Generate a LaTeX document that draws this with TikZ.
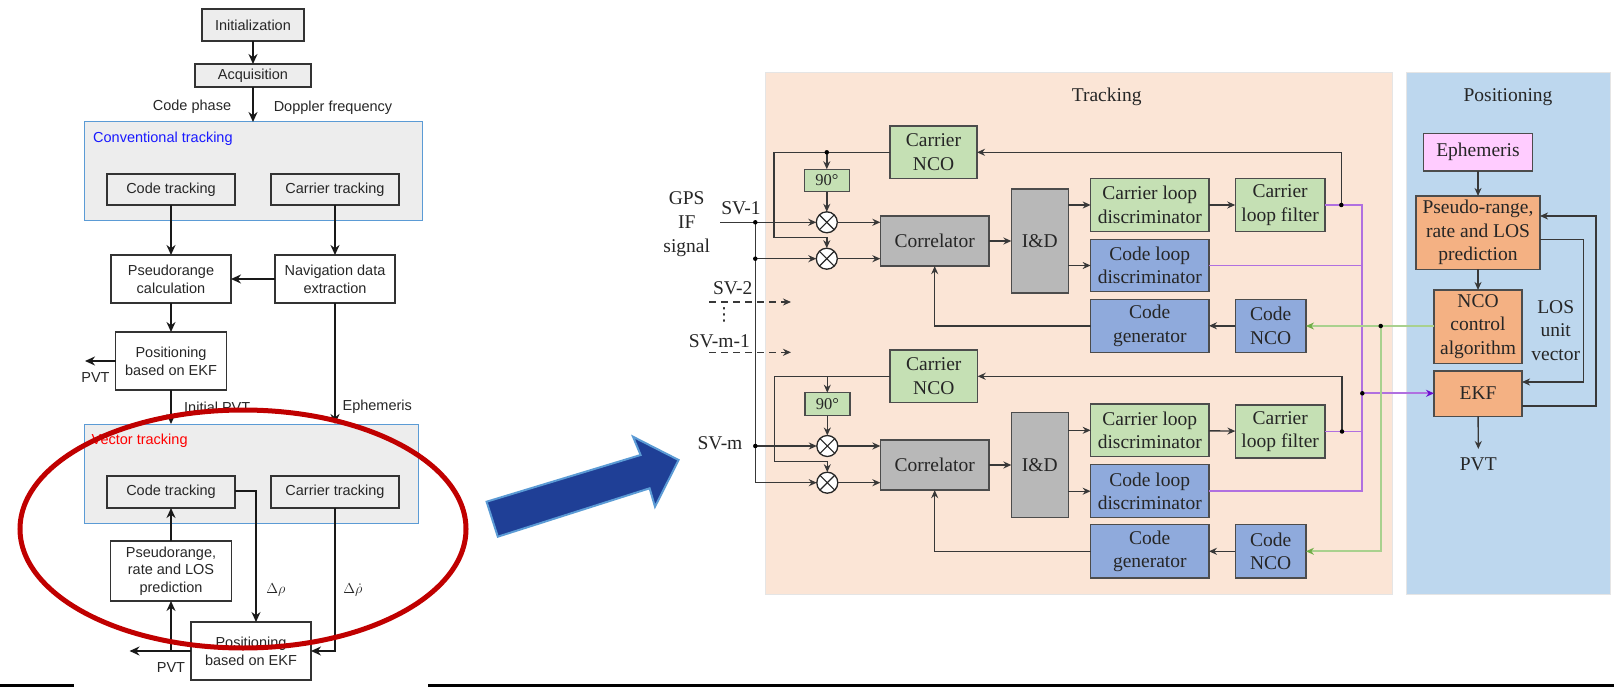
\documentclass[tikz,border=0pt]{standalone}
\usepackage{fontspec}
\setmainfont{Liberation Serif}
\setsansfont{Liberation Sans}
\newfontfamily\symfont{DejaVu Sans}
\usepackage{tikz}
\usetikzlibrary{shapes.geometric, arrows.meta, positioning, fit, backgrounds, calc}
\usepackage{xcolor}
\definecolor{panelPeach}{HTML}{FBE5D6}
\definecolor{panelBlue}{HTML}{BDD7EE}
\definecolor{boxGreen}{HTML}{C5E0B4}
\definecolor{boxBlue}{HTML}{8FAADC}
\definecolor{boxGray}{HTML}{B8B8B8}
\definecolor{boxOrange}{HTML}{F4B183}
\definecolor{boxPink}{HTML}{FFCCFF}
\definecolor{ringRed}{HTML}{C00000}
\definecolor{arrowBlue}{HTML}{1F3F96}
\definecolor{arrowEdge}{HTML}{5B9BD5}
\definecolor{wirePurple}{HTML}{B070E0}
\definecolor{tipPurple}{HTML}{6A10D0}
\definecolor{wireGreen}{HTML}{A9D18E}
\definecolor{tipGreen}{HTML}{70AD47}
\tikzset{
    >={Stealth[length=8pt,width=7pt]},
    % Colors
    compGreen/.style={fill=boxGreen},
    compBlue/.style={fill=boxBlue},
    compGray/.style={fill=boxGray},
    compOrange/.style={fill=boxOrange},
    compPink/.style={fill=boxPink},
    % Shapes
    comp/.style={rectangle, draw=black!70, line width=1.4pt, inner sep=0pt, outer sep=0pt, align=center,
                 font=\fontsize{19.5}{23.5}\selectfont, text=black!85},
    flowBox/.style={rectangle, draw=black!80, line width=1.5pt, inner sep=0pt, outer sep=0pt, align=center,
                 font=\sffamily\fontsize{14.5}{17.7}\selectfont, text=black!85},
    stage/.style={rectangle, draw=arrowEdge, fill=black!7, line width=1pt, outer sep=0pt},
    panel/.style={rectangle, draw=black!10, line width=.6pt, outer sep=0pt},
    mixer/.style={circle, draw=black!85, fill=white, line width=1.3pt, minimum size=21pt, inner sep=0pt, outer sep=0pt,
                  path picture={
                    \draw[line width=1.1pt] (path picture bounding box.north west) -- (path picture bounding box.south east);
                    \draw[line width=1.1pt] (path picture bounding box.south west) -- (path picture bounding box.north east);}},
    junction/.style={circle, fill=black, inner sep=0pt, minimum size=4.5pt},
    % Flow & Labels
    flow/.style={->, line width=1.4pt, black!78},
    flowLeft/.style={->, >={Stealth[length=10pt,width=9pt]}, line width=1.6pt, black!90},
    purpleFlow/.style={line width=1.8pt, wirePurple},
    greenFlow/.style={line width=1.8pt, wireGreen},
    lbl/.style={inner sep=0pt, align=center, text=black!85, font=\fontsize{19.5}{23.5}\selectfont},
    lblLeft/.style={inner sep=0pt, align=center, text=black!85, font=\sffamily\fontsize{14.5}{17.7}\selectfont}
}
\begin{document}
\begin{tikzpicture}[x=1pt, y=-1pt]
\useasboundingbox (0,0) rectangle (1614,687);

% left flow chart
\node[stage, minimum width=338pt, minimum height=99pt] (conv) at (253,171.5) {};
\node[stage, minimum width=334pt, minimum height=99pt] (vect) at (251,473.5) {};
\node[lblLeft, anchor=west, text=blue!90!white] (convLbl) at (93,138.5) {Conventional tracking};
\node[lblLeft, anchor=west, text=red] (vectLbl) at (91.5,441) {Vector tracking};

\node[flowBox, fill=black!7, minimum width=102pt, minimum height=32pt] (init) at (253,25) {Initialization};
\node[flowBox, fill=black!7, minimum width=116pt, minimum height=23pt, below=23pt of init] (acq) {Acquisition};
\node[flowBox, fill=black!7, minimum width=128pt, minimum height=31pt] (codeA) at (171,189.5) {Code tracking};
\node[flowBox, fill=black!7, minimum width=128pt, minimum height=31pt, right=36pt of codeA] (carA) {Carrier tracking};
\node[flowBox, minimum width=120pt, minimum height=48pt, below=50pt of codeA] (range) {Pseudorange\\calculation};
\node[flowBox, minimum width=120pt, minimum height=48pt, below=50pt of carA] (nav) {Navigation data\\extraction};
\node[flowBox, minimum width=111pt, minimum height=58pt, below=29pt of range] (posA) {Positioning\\based on EKF};
\node[flowBox, fill=black!7, minimum width=128pt, minimum height=32pt] (codeB) at (171,492) {Code tracking};
\node[flowBox, fill=black!7, minimum width=128pt, minimum height=32pt, right=36pt of codeB] (carB) {Carrier tracking};
\node[flowBox, minimum width=121pt, minimum height=60pt, below=33pt of codeB] (pred) {Pseudorange,\\rate and LOS\\prediction};
\node[flowBox, minimum width=120pt, minimum height=58pt] (posB) at (251,651) {Positioning\\based on EKF};

\node[lblLeft] (phase) at (192,107) {Code phase};
\node[lblLeft] (doppler) at (333,108) {Doppler frequency};
\node[lblLeft] (pvtA) at (95.5,378) {PVT};
\node[lblLeft, anchor=west] (initPvt) at (184,407) {Initial PVT};
\node[lblLeft, anchor=west] (ephA) at (342.4,407) {Ephemeris};
\node[lblLeft] (pvtB) at (171,668) {PVT};
\node[lblLeft] (dRho) at (276,590) {$\Delta\rho$};
\node[lblLeft] (dRhoDot) at (353,590) {$\Delta\dot{\rho}$};

\coordinate (pvtEndA) at (85,361);
\coordinate (pvtEndB) at (129.5,651);
\coordinate (turnB) at (256,491);

\draw[flowLeft] (init) -- (acq);
\draw[flowLeft] (acq) -- (conv.north -| acq);
\draw[flowLeft] (codeA) -- (range);
\draw[flowLeft] (carA) -- (nav);
\draw[flowLeft] (nav) -- (range);
\draw[flowLeft] (range) -- (posA);
\draw[flowLeft] (posA.west) -- (pvtEndA |- posA.west);
\draw[flowLeft] (posA) -- (posA |- vect.north);
\draw[flowLeft] (nav) -- (nav |- vect.north);
\draw[flowLeft] (pred) -- (codeB);
\draw[flowLeft] (posB.west) -- (pvtEndB);
\draw[flowLeft] (pvtEndB -| pred) -- (pred);
\draw[flowLeft, line width=1.3pt] (turnB -| codeB.east) -- (turnB) -- (turnB |- posB.north);
\draw[flowLeft, line width=1.3pt] (carB) |- (posB);

\draw[ringRed, line width=5pt] (243,529) ellipse (223 and 119);

% big arrow
\filldraw[fill=arrowBlue, draw=arrowEdge, line width=2pt] (486.6,501.7) -- (640.6,455) -- (633,436.7) -- (678.6,460)
    -- (655,506.7) -- (649.6,488.3) -- (497.8,536.7) -- cycle;

% bottom rules
\fill[black] (0,684) rectangle (74,687);
\fill[black] (428,684) rectangle (1614,687);

% panels
\node[panel, fill=panelPeach, minimum width=627pt, minimum height=522pt] (track) at (1078.3,333) {};
\node[panel, fill=panelBlue, minimum width=204pt, minimum height=522pt] (posit) at (1508,333) {};
\node[lbl] (trackLbl) at (1106.7,97) {Tracking};
\node[lbl] (positLbl) at (1508,97) {Positioning};

% upper channel
\node[comp, compGreen, minimum width=87pt, minimum height=52.5pt] (ncoA) at (933.5,152.3) {Carrier\\NCO};
\node[comp, compGreen, minimum width=45pt, minimum height=22.5pt, font=\fontsize{16.5}{20}\selectfont] (shiftA) at (826.8,180.5) {90°};
\node[mixer] (mxA) at (826.8,222.3) {};
\node[mixer] (mxB) at (826.8,258.7) {};
\node[comp, compGray, minimum width=108.7pt, minimum height=50.3pt] (corrA) at (934.7,241) {Correlator};
\node[comp, compGray, minimum width=57pt, minimum height=104.3pt, right=22.3pt of corrA] (idA) {I\&D};
\node[comp, compGreen, minimum width=118.3pt, minimum height=53.4pt] (carDiscA) at (1149.8,205) {Carrier loop\\discriminator};
\node[comp, compBlue, minimum width=118.3pt, minimum height=52.4pt] (codeDiscA) at (1149.8,265.5) {Code loop\\discriminator};
\node[comp, compBlue, minimum width=118.3pt, minimum height=53pt] (genA) at (1149.8,325.8) {Code\\generator};
\node[comp, compGreen, minimum width=89.7pt, minimum height=53.4pt, right=26.3pt of carDiscA] (filtA) {Carrier\\loop filter};
\node[comp, compBlue, minimum width=70.7pt, minimum height=53pt, right=26.3pt of genA] (cncoA) {Code\\NCO};

% lower channel
\node[comp, compGreen, minimum width=87.7pt, minimum height=52.7pt] (ncoB) at (933.8,376.3) {Carrier\\NCO};
\node[comp, compGreen, minimum width=45pt, minimum height=23pt, font=\fontsize{16.5}{20}\selectfont] (shiftB) at (827.3,404.2) {90°};
\node[mixer] (mxC) at (827.3,446) {};
\node[mixer] (mxD) at (827.3,482.7) {};
\node[comp, compGray, minimum width=108.7pt, minimum height=50.3pt] (corrB) at (934.7,465) {Correlator};
\node[comp, compGray, minimum width=57pt, minimum height=105pt, right=22.3pt of corrB] (idB) {I\&D};
\node[comp, compGreen, minimum width=118.3pt, minimum height=52.7pt] (carDiscB) at (1149.8,430.3) {Carrier loop\\discriminator};
\node[comp, compBlue, minimum width=118.3pt, minimum height=53pt] (codeDiscB) at (1149.8,491.2) {Code loop\\discriminator};
\node[comp, compBlue, minimum width=118.3pt, minimum height=53.3pt] (genB) at (1149.8,551.3) {Code\\generator};
\node[comp, compGreen, minimum width=89.7pt, minimum height=53pt] (filtB) at (1280.2,431.5) {Carrier\\loop filter};
\node[comp, compBlue, minimum width=70.7pt, minimum height=53.3pt, right=26.3pt of genB] (cncoB) {Code\\NCO};

% positioning column
\node[comp, compPink, minimum width=108.7pt, minimum height=37.3pt] (eph) at (1478,152.3) {Ephemeris};
\node[comp, compOrange, minimum width=124pt, minimum height=73.3pt, below=25pt of eph] (predR) {Pseudo-range,\\rate and LOS\\prediction};
\node[comp, compOrange, minimum width=88pt, minimum height=73.3pt, below=20.7pt of predR] (ncoCtl) {NCO\\control\\algorithm};
\node[comp, compOrange, minimum width=88pt, minimum height=45.3pt, below=7.7pt of ncoCtl] (ekf) {EKF};
\node[lbl] (pvtR) at (1478.3,464.3) {PVT};
\node[lbl] (losLbl) at (1555.7,330.3) {LOS\\unit\\vector};

% input labels
\node[lbl, font=\fontsize{19.5}{24}\selectfont] (gps) at (686.7,224.5) {GPS\\IF\\signal};
\node[lbl] (svOne) at (741,208.3) {SV-1};
\node[lbl] (svTwo) at (732.7,288) {SV-2};
\node[lbl, font=\symfont\fontsize{18}{18}\selectfont] (svDots) at (724,315) {⋮};
\node[lbl] (svPrev) at (719.3,341) {SV-m-1};
\node[lbl] (svLast) at (720,443.3) {SV-m};

% wire corners and junctions
\coordinate (jA) at (755.3,222.3);
\coordinate (jB) at (755.3,258.7);
\coordinate (jC) at (755.3,446);
\coordinate (jNco) at (826.8,152.3);
\coordinate (jFiltA) at (1341.3,205);
\coordinate (jFiltB) at (1342,431.5);
\coordinate (jEkf) at (1362.3,393.3);
\coordinate (jGreen) at (1380.7,326);
\coordinate (sigIn) at (720,222.3);
\coordinate (busEnd) at (755.3,482.7);
\coordinate (svTwoA) at (709,302);
\coordinate (svTwoB) at (791,302);
\coordinate (svPrevA) at (709,352.3);
\coordinate (svPrevB) at (791,352.3);
\coordinate (ncoDropA) at (774,237.3);
\coordinate (ncoDropB) at (774.7,461.7);
\coordinate (purpleEnd) at (1362.3,205);
\coordinate (greenEnd) at (1380.7,551.3);
\coordinate (pvtTip) at (1478.3,449);
\coordinate (loopA) at (1596.3,406.3);
\coordinate (loopB) at (1596.3,216);
\coordinate (losA) at (1583.7,239.3);
\coordinate (losB) at (1583.7,382);

% signal wires
\draw[flow] (sigIn) -- (mxA.west);
\draw[flow, -] (jA) -- (busEnd);
\draw[flow] (jB) -- (mxB.west);
\draw[flow] (jC) -- (mxC.west);
\draw[flow] (busEnd) -- (mxD.west);
\draw[flow, dash pattern=on 7pt off 5pt] (svTwoA) -- (svTwoB);
\draw[flow, dash pattern=on 7pt off 5pt] (svPrevA) -- (svPrevB);

% upper channel wires
\draw[flow] (ncoA.west) -- (jNco) -- (jNco -| ncoDropA) -- (ncoDropA) -- (ncoDropA -| mxB) -- (mxB.north);
\draw[flow] (jNco) -- (shiftA);
\draw[flow] (shiftA) -- (mxA);
\draw[flow] (mxA.east) -- (mxA.east -| corrA.west);
\draw[flow] (mxB.east) -- (mxB.east -| corrA.west);
\draw[flow] (corrA) -- (idA);
\draw[flow] (carDiscA.west -| idA.east) -- (carDiscA.west);
\draw[flow] (codeDiscA.west -| idA.east) -- (codeDiscA.west);
\draw[flow] (genA.west) -| (corrA.south);
\draw[flow] (carDiscA) -- (filtA);
\draw[flow] (cncoA) -- (genA);
\draw[flow] (jFiltA) |- (ncoA.east);

% lower channel wires
\draw[flow] (ncoB.west) -- (ncoDropB |- ncoB.west) -- (ncoDropB) -- (ncoDropB -| mxD) -- (mxD.north);
\draw[flow] (shiftB |- ncoB.west) -- (shiftB);
\draw[flow] (shiftB) -- (mxC);
\draw[flow] (mxC.east) -- (mxC.east -| corrB.west);
\draw[flow] (mxD.east) -- (mxD.east -| corrB.west);
\draw[flow] (corrB) -- (idB);
\draw[flow] (carDiscB.west -| idB.east) -- (carDiscB.west);
\draw[flow] (codeDiscB.west -| idB.east) -- (codeDiscB.west);
\draw[flow] (genB.west) -| (corrB.south);
\draw[flow] (carDiscB) -- (filtB);
\draw[flow] (cncoB) -- (genB);
\draw[flow] (jFiltB) |- (ncoB.east);

% purple bus
\draw[purpleFlow] (filtA.east) -- (purpleEnd) -- (purpleEnd |- codeDiscB.east) -- (codeDiscB.east);
\draw[purpleFlow] (codeDiscA.east) -- (purpleEnd |- codeDiscA.east);
\draw[purpleFlow] (filtB.east) -- (purpleEnd |- filtB.east);
\draw[purpleFlow, ->, >={Stealth[length=8pt,width=7pt,color=tipPurple]}] (jEkf) -- (jEkf -| ekf.west);

% green bus
\draw[greenFlow, ->, >={Stealth[length=8pt,width=7pt,color=tipGreen]}] (jGreen -| ncoCtl.west) -- (jGreen -| cncoA.east);
\draw[greenFlow, ->, >={Stealth[length=8pt,width=7pt,color=tipGreen]}] (jGreen) -- (greenEnd) -- (cncoB.east);

% positioning wires
\draw[flow] (eph) -- (predR);
\draw[flow] (predR) -- (ncoCtl);
\draw[flow] (ekf) -- (pvtTip);
\draw[flow, line width=1.7pt] (loopA -| ekf.east) -- (loopA) -- (loopB) -- (loopB -| predR.east);
\draw[flow] (losA -| predR.east) -- (losA) -- (losB) -- (losB -| ekf.east);

% dots on top of the wires
\node[junction] (dotA) at (jA) {};
\node[junction] (dotB) at (jB) {};
\node[junction] (dotC) at (jC) {};
\node[junction] (dotNco) at (jNco) {};
\node[junction] (dotFiltA) at (jFiltA) {};
\node[junction] (dotFiltB) at (jFiltB) {};
\node[junction] (dotEkf) at (jEkf) {};
\node[junction] (dotGreen) at (jGreen) {};
\end{tikzpicture}
\end{document}
